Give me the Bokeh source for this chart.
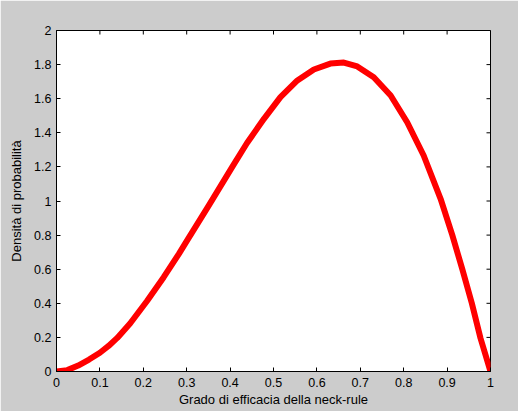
import math
from bokeh.plotting import figure
from bokeh.models import Range1d, LinearAxis, FixedTicker
from bokeh.embed import file_html
from bokeh.resources import INLINE

# Data
x_vals = [0, 0.025, 0.05, 0.075, 0.1, 0.12, 0.14, 0.17, 0.209, 0.247, 0.282, 0.3, 0.35,
          0.405, 0.439, 0.478, 0.516, 0.555, 0.593, 0.631, 0.662, 0.693, 0.731,
          0.77, 0.808, 0.846, 0.885, 0.912, 0.935, 0.957, 0.977, 1.0]
y_vals = [0, 0.008, 0.035, 0.07, 0.11, 0.15, 0.197, 0.283, 0.415, 0.553, 0.69, 0.765, 0.97,
          1.2, 1.34, 1.482, 1.609, 1.707, 1.771, 1.806, 1.812, 1.789, 1.726,
          1.619, 1.462, 1.267, 1.013, 0.8, 0.6, 0.4, 0.195, 0]

x_ticks = [0, 0.1, 0.2, 0.3, 0.4, 0.5, 0.6, 0.7, 0.8, 0.9, 1.0]
x_tick_labels = ["0", "0.1", "0.2", "0.3", "0.4", "0.5", "0.6", "0.7", "0.8", "0.9", "1"]
y_ticks = [0, 0.2, 0.4, 0.6, 0.8, 1.0, 1.2, 1.4, 1.6, 1.8, 2.0]
y_tick_labels = ["0", "0.2", "0.4", "0.6", "0.8", "1", "1.2", "1.4", "1.6", "1.8", "2"]

x_label = "Grado di efficacia della neck-rule"
y_label = "Densità di probabilità"

X_MIN, X_MAX = 0, 1
Y_MIN, Y_MAX = 0, 2

FONT = "Liberation Sans"
GRAY = "#cccccc"

p = figure(width=518, height=411, output_backend="svg", toolbar_location=None,
           x_range=Range1d(X_MIN, X_MAX), y_range=Range1d(Y_MIN, Y_MAX),
           x_axis_location=None, y_axis_location=None,
           min_border_left=56, min_border_right=28, min_border_top=30, min_border_bottom=40)
p.border_fill_color = GRAY
p.background_fill_color = "white"
p.outline_line_color = "black"
p.outline_line_width = 1
p.xgrid.visible = False
p.ygrid.visible = False


def style_axis(ax, ticks, labels):
    ax.ticker = FixedTicker(ticks=ticks)
    ax.major_label_overrides = {t: l for t, l in zip(ticks, labels)}
    ax.major_tick_in = 4
    ax.major_tick_out = 0
    ax.minor_tick_in = 0
    ax.minor_tick_out = 0
    ax.axis_line_color = "black"
    ax.major_tick_line_color = "black"
    ax.major_label_text_font = FONT
    ax.major_label_text_font_size = "12.5px"
    ax.major_label_text_color = "black"
    ax.axis_label_text_font = FONT
    ax.axis_label_text_font_size = "13px"
    ax.axis_label_text_font_style = "normal"
    ax.axis_label_text_color = "black"


bottom = LinearAxis(axis_label=x_label)
style_axis(bottom, x_ticks, x_tick_labels)
bottom.major_label_standoff = 6
bottom.axis_label_standoff = 2
p.add_layout(bottom, "below")

left = LinearAxis(axis_label=y_label)
style_axis(left, y_ticks, y_tick_labels)
left.major_label_standoff = 5
left.axis_label_standoff = 7
p.add_layout(left, "left")

# inward ticks on the top and right sides of the box (half of each dash is clipped by the frame)
p.scatter(x_ticks, [Y_MAX] * len(x_ticks), marker="dash", size=8, angle=math.pi / 2,
          line_color="black", line_width=1)
p.scatter([X_MAX] * len(y_ticks), y_ticks, marker="dash", size=8,
          line_color="black", line_width=1)

p.line(x_vals, y_vals, line_color="#ff0000", line_width=6, line_join="round")

html = file_html(p, INLINE)
html = html.replace("<body>", '<body style="margin:0;padding:0;background-color:#cccccc;">', 1)
open("out.html", "w").write(html)
